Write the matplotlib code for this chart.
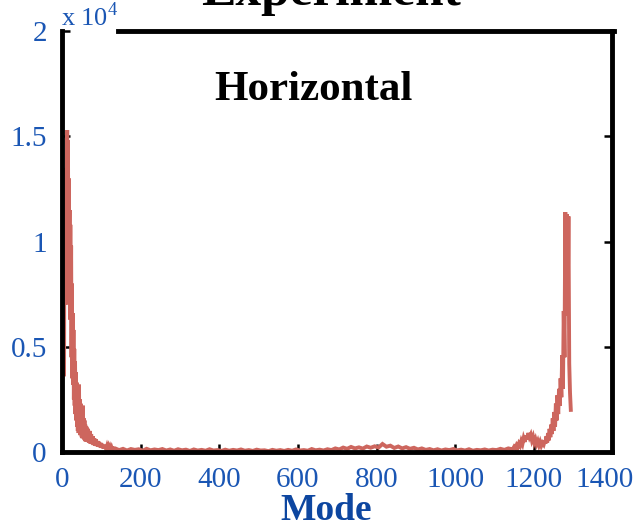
import numpy as np
import matplotlib
matplotlib.use("Agg")
import matplotlib.pyplot as plt
import matplotlib.transforms as mtransforms

plt.rcParams['font.family'] = ['Liberation Serif', 'DejaVu Serif']
plt.rcParams['mathtext.fontset'] = 'custom'
plt.rcParams['mathtext.rm'] = 'Liberation Serif'

# mode-resolved intensity, horizontal polarisation
near_modes = np.arange(1, 61)
near_counts = [6200, 9000, 4000, 10400, 3600, 12000, 8000, 13500, 7000, 12500,
               9500, 14200, 15300, 10000, 14800, 8500, 13000, 9000, 11500, 6300,
               10800, 6500, 9800, 4500, 8000, 3500, 6600, 3200, 5800, 2500,
               4900, 2200, 4300, 1800, 3800, 1500, 3300, 1200, 3000, 1000,
               2700, 900, 3200, 1100, 2500, 800, 2300, 900, 2000, 700,
               1900, 650, 2200, 700, 1600, 600, 1500, 550, 1300, 500]

tail_modes = np.arange(62, 131, 2)
tail_counts = [1200, 500, 1100, 450, 1000, 400, 850, 380, 750, 330,
               650, 300, 600, 280, 520, 250, 480, 230, 430, 200,
               380, 180, 340, 160, 300, 140, 260, 120, 240, 110,
               220, 100, 200, 90, 180]

mid_modes = np.arange(135, 1150, 10)
mid_counts = [170, 90, 150, 70, 140, 100, 130, 60, 150, 80, 120,
              90, 140, 70, 120, 60, 130, 80, 110, 50, 120, 70,
              100, 60, 130, 70, 90, 50, 110, 60, 100, 70, 120,
              60, 90, 50, 110, 70, 80, 40, 100, 60, 90, 50,
              100, 60, 120, 70, 90, 60, 140, 80, 110, 70, 130,
              90, 170, 120, 210, 150, 240, 170, 220, 160, 260, 200,
              270, 210, 380, 250, 300, 190, 260, 170, 230, 150, 200,
              120, 170, 100, 140, 80, 130, 70, 120, 90, 140, 80,
              110, 70, 130, 60, 100, 80, 120, 70, 110, 90, 150,
              100, 170, 130]

bump_modes = np.arange(1147, 1229, 3)
bump_counts = [150, 250, 180, 320, 220, 400, 300, 520, 380, 650,
               480, 780, 600, 900, 700, 820, 560, 720, 450, 600,
               380, 520, 320, 480, 300, 430, 350, 550]

edge_modes = np.arange(1230, 1295, 2)
edge_counts = [400, 750, 450, 900, 550, 1100, 700, 1300, 850, 1600,
               1000, 1900, 1200, 2300, 1500, 2700, 1800, 3000, 2200, 3500,
               2600, 4600, 3000, 6700, 4500, 11400, 7000, 11300, 6500, 11200,
               4200, 2800, 2000]

modes = np.concatenate([near_modes, tail_modes, mid_modes, bump_modes, edge_modes])
counts = np.concatenate([near_counts, tail_counts, mid_counts, bump_counts, edge_counts])

tick_blue = '#1a56b4'
label_blue = '#0d46a0'

fig = plt.figure(figsize=(6.4, 5.28), dpi=100)
ax = fig.add_axes([0.097, 0.144, 0.860, 0.797])

ax.plot(modes, counts, color='#cd665e', linewidth=2.8, solid_joinstyle='miter')

ax.set_xlim(0, 1400)
ax.set_ylim(0, 20000)
ax.set_xticks(np.arange(0, 1401, 200))
ax.set_yticks([0, 5000, 10000, 15000, 20000])
ax.set_yticklabels(['0', '0.5', '1', '1.5', '2'])

for side in ['left', 'right', 'bottom']:
    ax.spines[side].set_linewidth(3.5)
ax.spines['top'].set_visible(False)
# top edge leaves room for the exponent label
ax.plot([0.101, 1.003], [1, 1], transform=ax.transAxes, color='black',
        linewidth=3.5, clip_on=False, solid_capstyle='projecting')

ax.tick_params(axis='both', direction='in', length=6, width=1.8,
               labelsize=21, labelcolor=tick_blue)
ax.tick_params(axis='y', right=True, pad=11)
ax.tick_params(axis='x', pad=11)

# keep the last x label inside the figure
fig.canvas.draw()
last = ax.get_xticklabels()[-1]
last.set_transform(last.get_transform() +
                   mtransforms.ScaledTranslation(-8 / 100, 0, fig.dpi_scale_trans))

ax.text(-0.002, 1.0, r'x 10$^{4}$', transform=ax.transAxes, fontsize=19,
        color=tick_blue, ha='left', va='bottom')

ax.set_xlabel('Mode', fontsize=27, fontweight='bold', color=label_blue)
ax.xaxis.label.set_va('baseline')
ax.xaxis.set_label_coords(0.48, -0.1615)

fig.text(0.49, 0.811, 'Horizontal', fontsize=31, fontweight='bold',
         ha='center', va='baseline')
fig.text(0.517, 0.99, 'Experiment', fontsize=37, fontweight='bold',
         ha='center', va='baseline')

fig.savefig('out.png', dpi=100)
